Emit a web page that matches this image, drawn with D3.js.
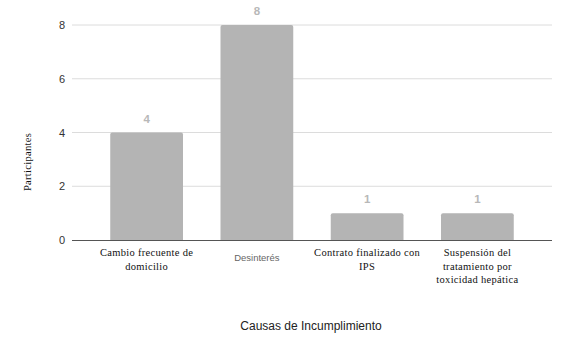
<!DOCTYPE html>
<html>
<head>
<meta charset="utf-8">
<script src="https://cdn.jsdelivr.net/npm/d3@7"></script>
<style>
  body { margin: 0; background: #fff; }
  .serif { font-family: "Liberation Serif", "Times New Roman", serif; }
  .sans { font-family: "Liberation Sans", Arial, sans-serif; }
</style>
</head>
<body>
<div id="chart"></div>
<script>
// Chart data
const categories = ["Cambio frecuente de domicilio", "Desinterés", "Contrato finalizado con IPS", "Suspensión del tratamiento por toxicidad hepática"];
const values = [4, 8, 1, 1];
const yTicks = [0, 2, 4, 6, 8];
// label lines as they wrap in the picture
const labelLines = [
  ["Cambio frecuente de", "domicilio"],
  ["Desinterés"],
  ["Contrato finalizado con", "IPS"],
  ["Suspensión del", "tratamiento por", "toxicidad hepática"]
];

const width = 570, height = 351;
const plotLeft = 72, plotRight = 552, plotTop = 25, plotBottom = 240;

const svg = d3.select("#chart").append("svg")
  .attr("width", width)
  .attr("height", height);

const x = d3.scaleBand()
  .domain(categories)
  .range([91.5, 532.5])
  .paddingInner(0.34)
  .paddingOuter(0.17);

const y = d3.scaleLinear()
  .domain([0, 8])
  .range([plotBottom, plotTop]);

// gridlines
svg.append("g")
  .selectAll("line")
  .data(yTicks.filter(d => d > 0))
  .join("line")
  .attr("x1", plotLeft).attr("x2", plotRight)
  .attr("y1", d => y(d)).attr("y2", d => y(d))
  .attr("stroke", "#dcdcdc")
  .attr("stroke-width", 1);

// y tick labels
svg.append("g")
  .selectAll("text")
  .data(yTicks)
  .join("text")
  .attr("class", "sans")
  .attr("x", 65)
  .attr("y", d => y(d) + 4)
  .attr("text-anchor", "end")
  .attr("font-size", 11)
  .attr("fill", "#333")
  .text(d => d);

// bars
svg.append("g")
  .selectAll("path")
  .data(categories)
  .join("path")
  .attr("d", (d, i) => {
    const x0 = x(d), w = x.bandwidth(), y0 = y(values[i]), r = 2;
    return `M${x0},${plotBottom}V${y0 + r}Q${x0},${y0} ${x0 + r},${y0}H${x0 + w - r}Q${x0 + w},${y0} ${x0 + w},${y0 + r}V${plotBottom}Z`;
  })
  .attr("fill", "#b4b4b4");

// baseline
svg.append("line")
  .attr("x1", plotLeft).attr("x2", plotRight)
  .attr("y1", plotBottom + 0.5).attr("y2", plotBottom + 0.5)
  .attr("stroke", "#555")
  .attr("stroke-width", 1);

// value labels
svg.append("g")
  .selectAll("text")
  .data(categories)
  .join("text")
  .attr("class", "sans")
  .attr("x", d => x(d) + x.bandwidth() / 2)
  .attr("y", (d, i) => y(values[i]) - 10)
  .attr("text-anchor", "middle")
  .attr("font-size", 11.5)
  .attr("font-weight", "bold")
  .attr("fill", "#b8b8b8")
  .text((d, i) => values[i]);

// category labels
const cat = svg.append("g")
  .selectAll("text")
  .data(categories)
  .join("text")
  .attr("class", (d, i) => i === 1 ? "sans" : "serif")
  .attr("text-anchor", "middle")
  .attr("font-size", (d, i) => i === 1 ? 9.5 : 10.5)
  .attr("letter-spacing", (d, i) => i === 1 ? 0 : 0.3)
  .attr("fill", (d, i) => i === 1 ? "#666" : "#111");

cat.selectAll("tspan")
  .data((d, i) => labelLines[i].map(t => ({ t, c: d, i })))
  .join("tspan")
  .attr("x", d => x(d.c) + x.bandwidth() / 2)
  .attr("y", (d, j) => d.i === 1 ? 261 : 256 + j * 13.5)
  .text(d => d.t);

// y axis title
svg.append("text")
  .attr("class", "serif")
  .attr("transform", "translate(31,162) rotate(-90)")
  .attr("text-anchor", "middle")
  .attr("font-size", 10.5)
  .attr("letter-spacing", 0.3)
  .attr("fill", "#111")
  .text("Participantes");

// x axis title
svg.append("text")
  .attr("class", "sans")
  .attr("x", 311)
  .attr("y", 330)
  .attr("text-anchor", "middle")
  .attr("font-size", 12)
  .attr("fill", "#222")
  .text("Causas de Incumplimiento");
</script>
</body>
</html>
